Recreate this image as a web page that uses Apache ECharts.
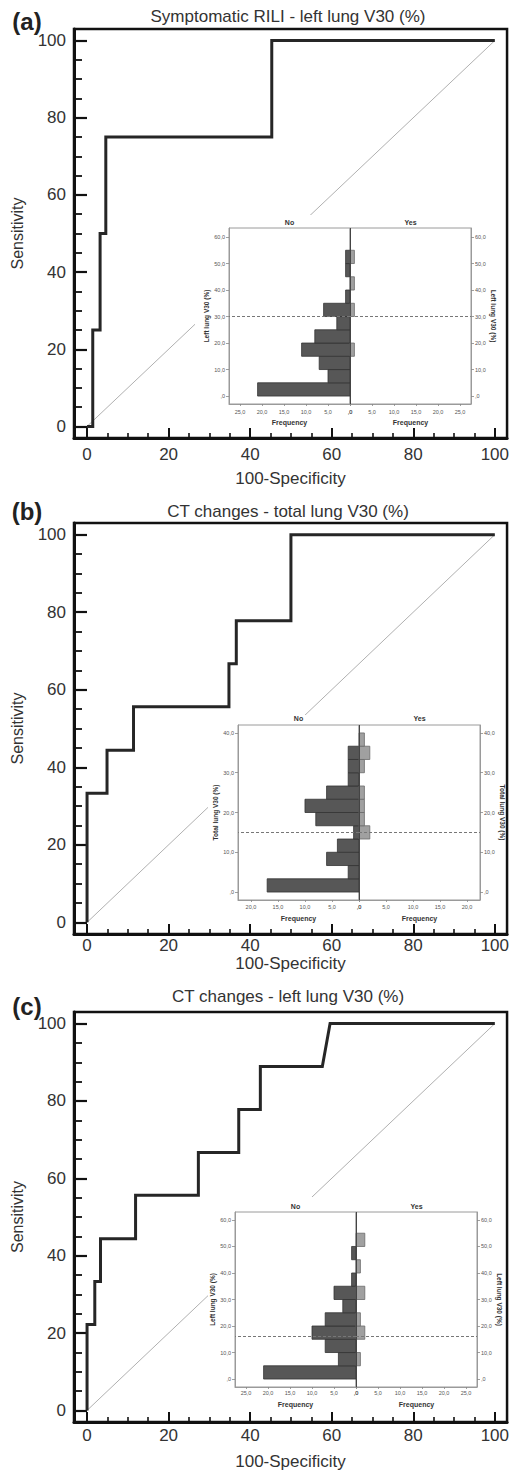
<!DOCTYPE html>
<html><head><meta charset="utf-8">
<script src="https://cdn.jsdelivr.net/npm/echarts@6/dist/echarts.min.js"></script>
<style>html,body{margin:0;padding:0;background:#fff}#c{width:512px;height:1472px}</style>
</head><body><div id="c"></div>
<script>
// ---------- DATA ----------
const panelLabels = ['(a)', '(b)', '(c)'];
const panelTitles = ['Symptomatic RILI - left lung V30 (%)', 'CT changes - total lung V30 (%)', 'CT changes - left lung V30 (%)'];
const rocXName = '100-Specificity';
const rocYName = 'Sensitivity';
const rocTicks = [0, 20, 40, 60, 80, 100];
const rocMinorTicks = [5, 10, 15, 25, 30, 35, 45, 50, 55, 65, 70, 75, 85, 90, 95];
const diagX = [0, 100];
const diagY = [0, 100];

// ROC curves (100-specificity, sensitivity)
const rocA_x = [0, 1.4, 1.4, 3.2, 3.2, 4.6, 4.6, 45.3, 45.3, 100];
const rocA_y = [0, 0, 25, 25, 50, 50, 75, 75, 100, 100];
const rocB_x = [0, 0, 4.9, 4.9, 11.4, 11.4, 34.8, 34.8, 36.6, 36.6, 50.0, 50.0, 100];
const rocB_y = [0, 33.3, 33.3, 44.4, 44.4, 55.6, 55.6, 66.7, 66.7, 77.8, 77.8, 100, 100];
const rocC_x = [0, 0, 1.9, 1.9, 3.3, 3.3, 11.9, 11.9, 27.3, 27.3, 37.2, 37.2, 42.5, 42.5, 57.7, 59.6, 100];
const rocC_y = [0, 22.2, 22.2, 33.3, 33.3, 44.4, 44.4, 55.6, 55.6, 66.7, 66.7, 77.8, 77.8, 88.9, 88.9, 100, 100];

// Inset histograms (population pyramids): bin lower edges, bin width, counts
const histGroupNames = ['No', 'Yes'];
const histXName = 'Frequency';
const histA_yName = 'Left lung V30 (%)';
const histA_binStart = [0, 5, 10, 15, 20, 25, 30, 35, 40, 45, 50];
const histA_binWidth = 5;
const histA_no  = [21, 5, 7, 11, 8, 3, 6, 1, 0, 1, 1];
const histA_yes = [0, 0, 0, 1, 0, 0, 1, 0, 1, 0, 1];
const histA_cut = 30;
const histA_yTicks = [0, 10, 20, 30, 40, 50, 60];
const histA_xTicks = [0, 5, 10, 15, 20, 25];

const histB_yName = 'Total lung V30 (%)';
const histB_binStart = [0, 3.333, 6.667, 10, 13.333, 16.667, 20, 23.333, 26.667, 30, 33.333, 36.667];
const histB_binWidth = 3.333;
const histB_no  = [17, 2, 6, 4, 1, 8, 10, 6, 2, 2, 2, 0];
const histB_yes = [0, 0, 0, 0, 2, 1, 1, 1, 0, 1, 2, 1];
const histB_cut = 15;
const histB_yTicks = [0, 10, 20, 30, 40];
const histB_xTicks = [0, 5, 10, 15, 20];

const histC_yName = 'Left lung V30 (%)';
const histC_binStart = [0, 5, 10, 15, 20, 25, 30, 35, 40, 45, 50];
const histC_binWidth = 5;
const histC_no  = [21, 4, 7, 10, 7, 3, 5, 1, 0, 1, 0];
const histC_yes = [0, 1, 0, 2, 1, 0, 2, 0, 1, 0, 2];
const histC_cut = 16;
const histC_yTicks = [0, 10, 20, 30, 40, 50, 60];
const histC_xTicks = [0, 5, 10, 15, 20, 25];

// ---------- LAYOUT ----------
const FONT = 'Liberation Sans, Arial, Helvetica, sans-serif';
const panels = [
  { roc: [rocA_x, rocA_y], hist: { yName: histA_yName, start: histA_binStart, w: histA_binWidth, no: histA_no, yes: histA_yes, cut: histA_cut, yTicks: histA_yTicks, xTicks: histA_xTicks },
    top: 29, h: 409, titleY: 16, labelY: 21, xLabMargin: 8, xNameGap: 32,
    inset: { left: 229, top: 228, w: 121, h: 176, xMax: 27.5, yMin: -3, yMax: 63.4, textY: 222, labMargin: 5, nameGap: 14.5 },
    box: [195, 215, 305, 211] },
  { roc: [rocB_x, rocB_y], hist: { yName: histB_yName, start: histB_binStart, w: histB_binWidth, no: histB_no, yes: histB_yes, cut: histB_cut, yTicks: histB_yTicks, xTicks: histB_xTicks },
    top: 523, h: 411, titleY: 511, labelY: 511, xLabMargin: 3, xNameGap: 20,
    inset: { left: 238, top: 725, w: 121, h: 175, xMax: 22.4, yMin: -2, yMax: 42, textY: 718, labMargin: 4, nameGap: 14.5 },
    box: [208, 715, 292, 205] },
  { roc: [rocC_x, rocC_y], hist: { yName: histC_yName, start: histC_binStart, w: histC_binWidth, no: histC_no, yes: histC_yes, cut: histC_cut, yTicks: histC_yTicks, xTicks: histC_xTicks },
    top: 1012, h: 410, titleY: 996, labelY: 1006, xLabMargin: 5, xNameGap: 31,
    inset: { left: 235, top: 1212, w: 121, h: 175, xMax: 27.5, yMin: -3, yMax: 63, textY: 1206, labMargin: 3, nameGap: 13.5 },
    box: [208, 1197, 292, 211] }
];

const fmtComma = v => (v === 0 ? ',0' : v.toFixed(1).replace('.', ','));

const grid = [], xAxis = [], yAxis = [], series = [], graphic = [];

// main grids
panels.forEach((p, i) => {
  grid[i] = { left: 74, top: p.top, width: 436, height: p.h, show: true, borderColor: '#111', borderWidth: 2.5 };
  xAxis[2 * i] = {
    gridIndex: i, type: 'value', position: 'bottom', min: -3.2, max: 103,
    axisLine: { show: true, onZero: false, lineStyle: { color: '#111', width: 3 } },
    axisTick: { show: true, inside: true, length: 10, customValues: rocTicks, lineStyle: { color: '#111', width: 2 } },
    axisLabel: { show: true, customValues: rocTicks, margin: p.xLabMargin, fontSize: 17, color: '#333', fontFamily: FONT },
    splitLine: { show: false },
    name: rocXName, nameLocation: 'middle', nameGap: p.xNameGap,
    nameTextStyle: { fontSize: 17, color: '#333', fontFamily: FONT }
  };
  xAxis[2 * i + 1] = {
    gridIndex: i, type: 'value', position: 'bottom', min: -3.2, max: 103,
    axisLine: { show: false, onZero: false },
    axisTick: { show: true, inside: true, length: 5, customValues: rocMinorTicks, lineStyle: { color: '#111', width: 1.6 } },
    axisLabel: { show: false }, splitLine: { show: false }
  };
  yAxis[2 * i] = {
    gridIndex: i, type: 'value', position: 'left', min: -3, max: 103,
    axisLine: { show: true, onZero: false, lineStyle: { color: '#111', width: 3 } },
    axisTick: { show: true, inside: true, length: 13, customValues: rocTicks, lineStyle: { color: '#111', width: 2.2 } },
    axisLabel: { show: true, customValues: rocTicks, margin: 8, fontSize: 17, color: '#333', fontFamily: FONT },
    splitLine: { show: false },
    name: rocYName, nameLocation: 'middle', nameGap: 49,
    nameTextStyle: { fontSize: 16, color: '#333', fontFamily: FONT }
  };
  yAxis[2 * i + 1] = {
    gridIndex: i, type: 'value', position: 'left', min: -3, max: 103,
    axisLine: { show: false, onZero: false },
    axisTick: { show: true, inside: true, length: 8, customValues: rocMinorTicks, lineStyle: { color: '#111', width: 1.8 } },
    axisLabel: { show: false }, splitLine: { show: false }
  };
  // diagonal reference line
  series.push({ type: 'line', xAxisIndex: 2 * i, yAxisIndex: 2 * i, z: 2, symbol: 'none', silent: true,
    data: diagX.map((x, j) => [x, diagY[j]]), lineStyle: { color: '#b0b0b0', width: 1 } });
  // ROC curve
  series.push({ type: 'line', xAxisIndex: 2 * i, yAxisIndex: 2 * i, z: 10, symbol: 'none', silent: true,
    data: p.roc[0].map((x, j) => [x, p.roc[1][j]]), lineStyle: { color: '#262626', width: 3, join: 'miter' } });

  // white backing of inset
  graphic.push({ type: 'rect', z: 3, silent: true,
    shape: { x: p.box[0], y: p.box[1], width: p.box[2], height: p.box[3] }, style: { fill: '#fff' } });
  // panel label & title
  graphic.push({ type: 'text', z: 10, x: 27, y: p.labelY,
    style: { text: panelLabels[i], align: 'center', verticalAlign: 'middle', font: 'bold 24px ' + FONT, fill: '#222' } });
  graphic.push({ type: 'text', z: 10, x: 288, y: p.titleY,
    style: { text: panelTitles[i], align: 'center', verticalAlign: 'middle', font: '17px ' + FONT, fill: '#333' } });
});

// inset grids
panels.forEach((p, i) => {
  const ins = p.inset, h = p.hist;
  [0, 1].forEach(side => {
    const g = 3 + 2 * i + side;      // grid index
    const a = 6 + 2 * i + side;      // axis index
    grid[g] = { left: ins.left + side * ins.w, top: ins.top, width: ins.w, height: ins.h,
      show: true, borderColor: '#9a9a9a', borderWidth: 1, backgroundColor: '#fff', z: 5 };
    xAxis[a] = {
      gridIndex: g, type: 'value', position: 'bottom', min: 0, max: ins.xMax, inverse: side === 0, z: 5,
      axisLine: { show: true, onZero: false, lineStyle: { color: '#9a9a9a', width: 1 } },
      axisTick: { show: true, length: 2, customValues: h.xTicks, lineStyle: { color: '#888', width: 0.8 } },
      axisLabel: { show: true, customValues: h.xTicks, formatter: fmtComma, margin: ins.labMargin, fontSize: 5.5, color: '#555', fontFamily: FONT },
      splitLine: { show: false },
      name: histXName, nameLocation: 'middle', nameGap: ins.nameGap,
      nameTextStyle: { fontSize: 7, fontWeight: 'bold', color: '#333', fontFamily: FONT }
    };
    yAxis[a] = {
      gridIndex: g, type: 'value', position: side === 0 ? 'left' : 'right', min: ins.yMin, max: ins.yMax, z: 5,
      axisLine: { show: true, onZero: false, lineStyle: { color: '#9a9a9a', width: 1 } },
      axisTick: { show: true, length: 3, customValues: h.yTicks, lineStyle: { color: '#888', width: 0.8 } },
      axisLabel: { show: true, customValues: h.yTicks, formatter: fmtComma, margin: 4, fontSize: 5.5, color: '#555', fontFamily: FONT },
      splitLine: { show: false },
      name: h.yName, nameLocation: 'middle', nameGap: 15, nameRotate: side === 0 ? 90 : -90,
      nameTextStyle: { fontSize: 6.5, fontWeight: 'bold', color: '#333', fontFamily: FONT }
    };
    const counts = side === 0 ? h.no : h.yes;
    const data = h.start.map((s, k) => [counts[k], s, s + h.w]).filter(d => d[0] > 0);
    const fill = side === 0 ? '#575757' : '#a0a0a0';
    const stroke = side === 0 ? '#333' : '#6a6a6a';
    const mlData = [{ yAxis: h.cut, lineStyle: { type: [3, 2], color: '#777', width: 1 } }];
    if (side === 0) mlData.push({ xAxis: 0, lineStyle: { type: 'solid', color: '#444', width: 1 } });
    series.push({
      type: 'custom', xAxisIndex: a, yAxisIndex: a, z: 6, silent: true,
      data: data, encode: { x: 0, y: [1, 2] },
      renderItem: (params, api) => {
        const p0 = api.coord([0, api.value(1)]);
        const p1 = api.coord([api.value(0), api.value(2)]);
        return { type: 'rect',
          shape: { x: Math.min(p0[0], p1[0]), y: Math.min(p0[1], p1[1]), width: Math.abs(p1[0] - p0[0]), height: Math.abs(p1[1] - p0[1]) },
          style: { fill: fill, stroke: stroke, lineWidth: 0.8 } };
      },
      markLine: { silent: true, symbol: 'none', z: 7, label: { show: false }, animation: false, data: mlData }
    });
    graphic.push({ type: 'text', z: 10, x: ins.left + side * ins.w + ins.w / 2, y: ins.textY,
      style: { text: histGroupNames[side], align: 'center', verticalAlign: 'middle', font: 'bold 7px ' + FONT, fill: '#333' } });
  });
});

const chart = echarts.init(document.getElementById('c'), null, { renderer: 'svg', width: 512, height: 1472 });
chart.setOption({ animation: false, backgroundColor: '#fff', grid, xAxis, yAxis, series, graphic });
</script></body></html>
